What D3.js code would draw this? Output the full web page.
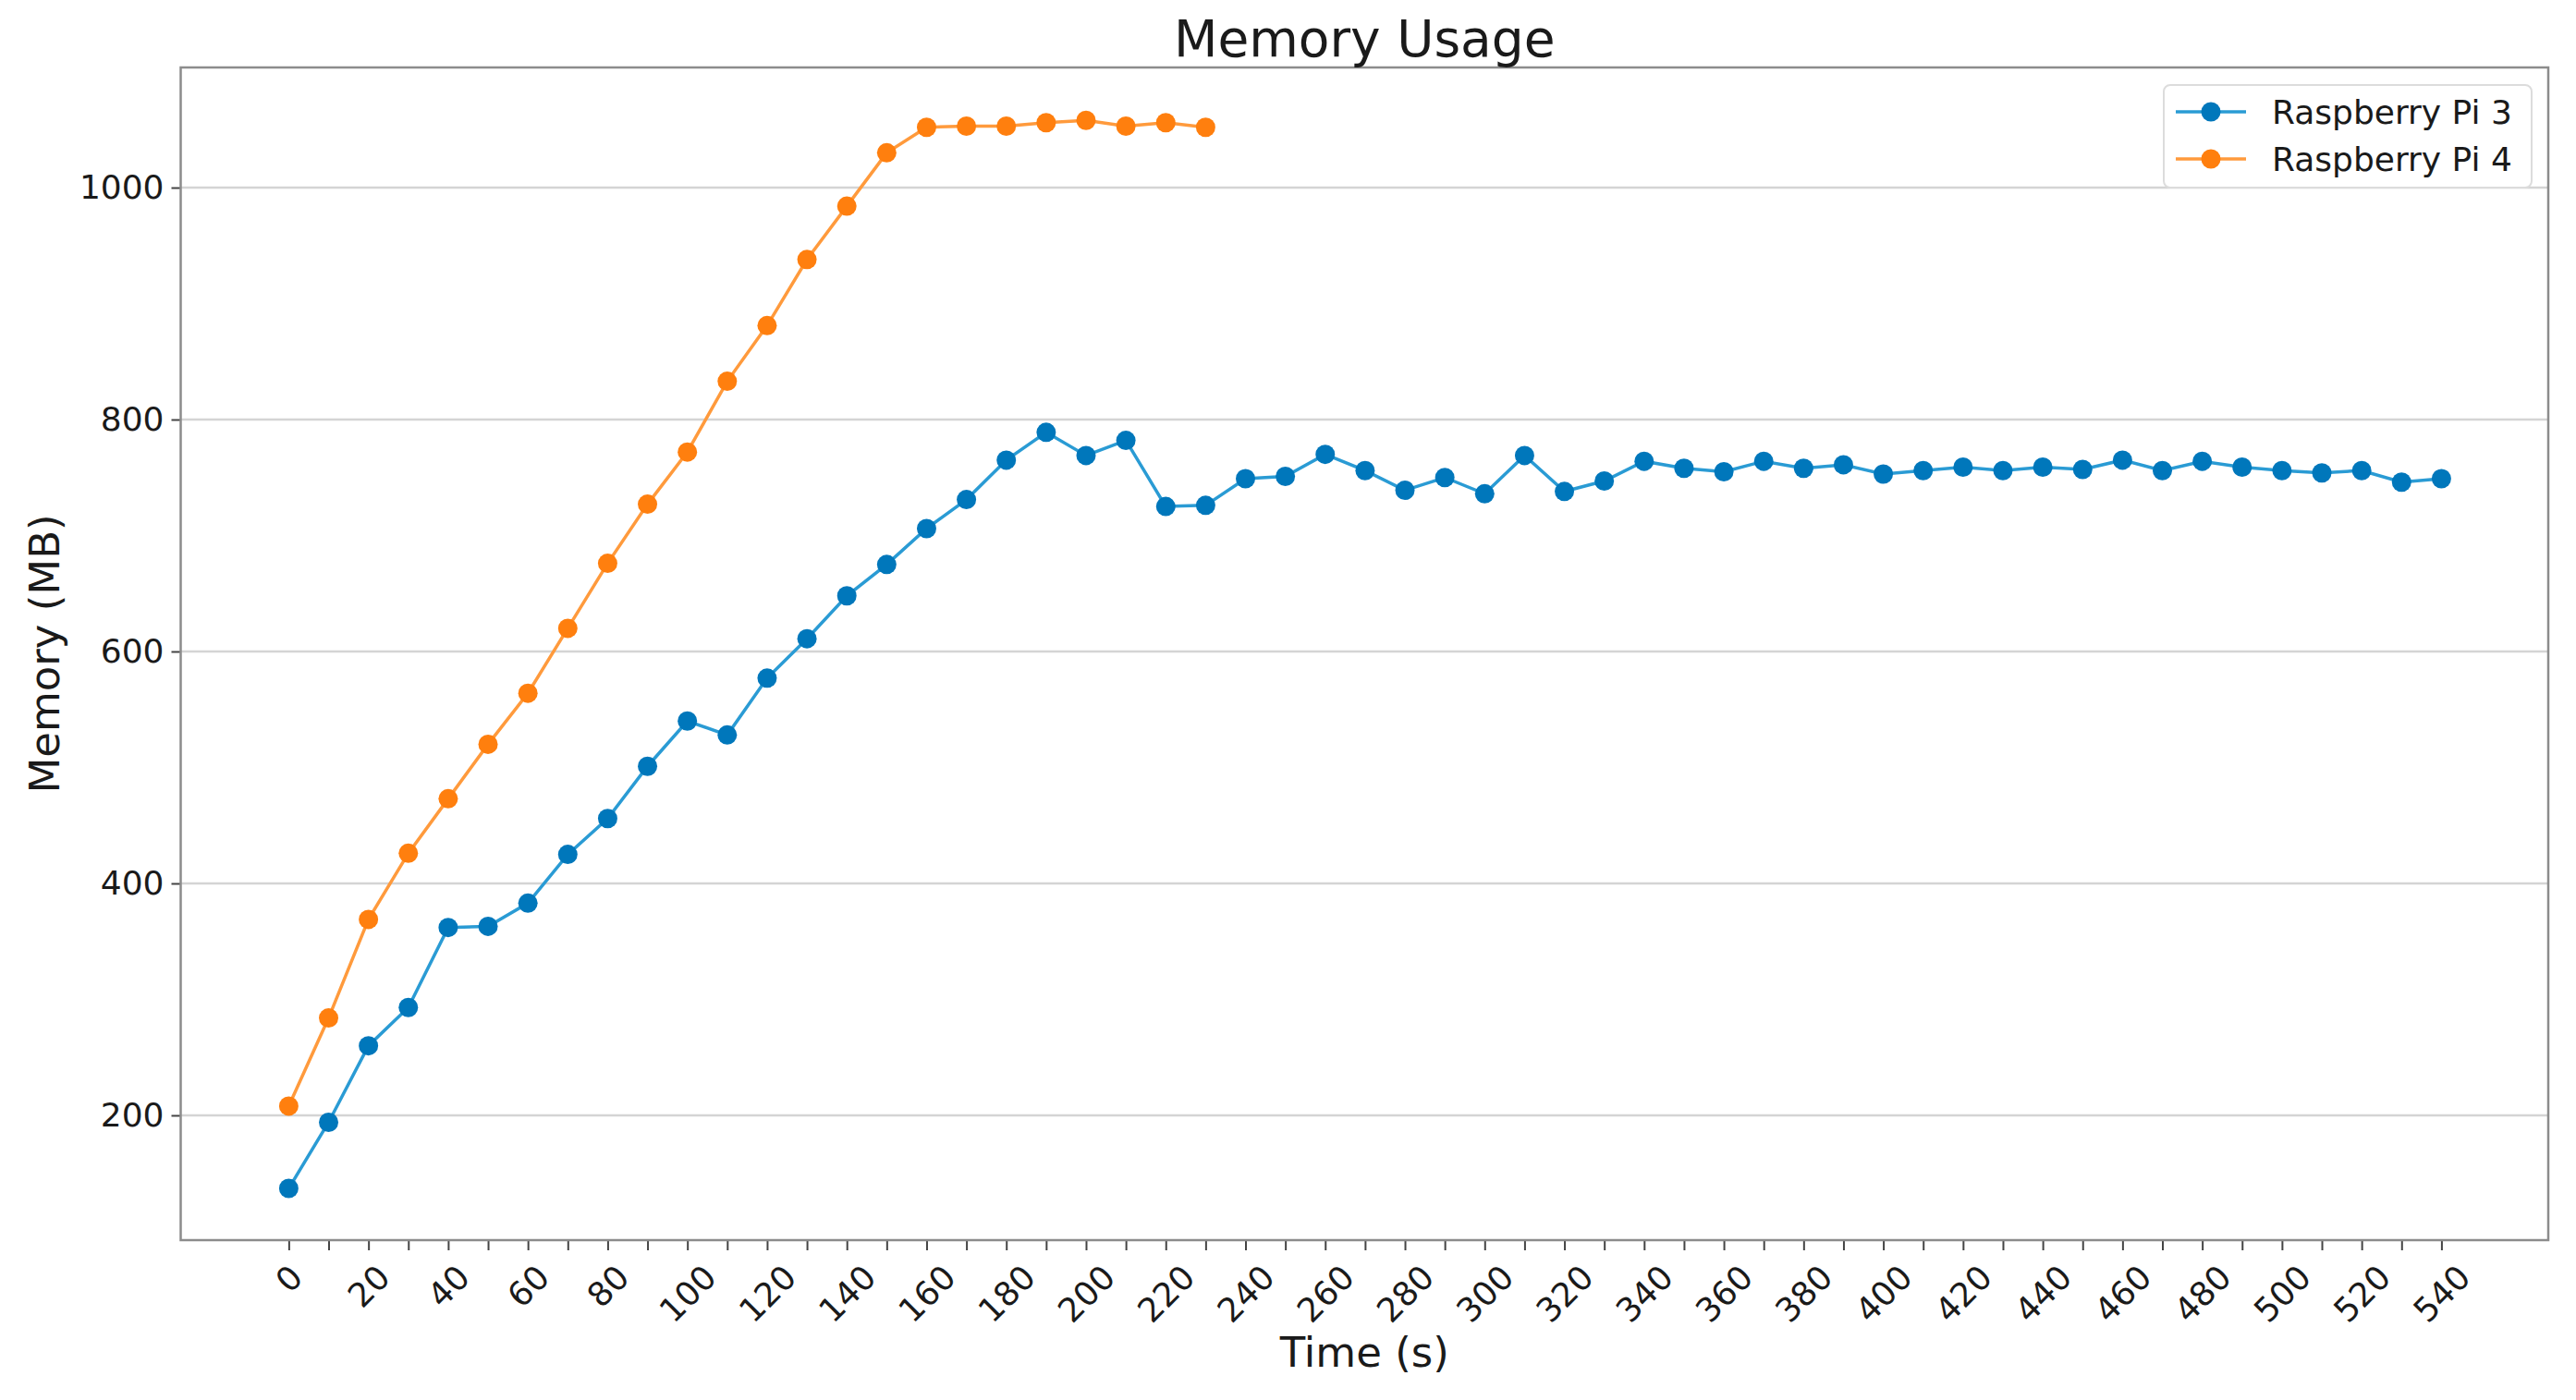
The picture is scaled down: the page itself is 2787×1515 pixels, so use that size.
<!DOCTYPE html>
<html>
<head>
<meta charset="utf-8">
<script src="https://cdn.jsdelivr.net/npm/d3@7"></script>
<style>
  html, body { margin: 0; padding: 0; background: #fff; }
  svg { display: block; }
  text { font-family: "DejaVu Sans", sans-serif; fill: #1a1a1a; }
</style>
</head>
<body>
<svg id="chart" width="2787" height="1515"></svg>
<script>
// ---- data ----
const timesPi3 = [0,10,20,30,40,50,60,70,80,90,100,110,120,130,140,150,160,170,180,190,200,210,220,230,240,250,260,270,280,290,300,310,320,330,340,350,360,370,380,390,400,410,420,430,440,450,460,470,480,490,500,510,520,530,540];
const memPi3 = [137,194,260,293,362,363,383,425,456,501,540,528,577,611,648,675,706,731,765,789,769,782,725,726,749,751,770,756,739,750,736,769,738,747,764,758,755,764,758,761,753,756,759,756,759,757,765,756,764,759,756,754,756,746,749];
const timesPi4 = [0,10,20,30,40,50,60,70,80,90,100,110,120,130,140,150,160,170,180,190,200,210,220,230];
const memPi4 = [208,284,369,426,473,520,564,620,676,727,772,833,881,938,984,1030,1052,1053,1053,1056,1058,1053,1056,1052];
const seriesNames = ["Raspberry Pi 3", "Raspberry Pi 4"];
const seriesColors = ["#0077bb", "#ff7f0e"];
const lineColors = ["#2a9bd4", "#ff9a3c"];
const yTicks = [200, 400, 600, 800, 1000];
const xTicks = d3.range(0, 541, 10);
const xTickLabels = d3.range(0, 541, 20);

// ---- layout ----
const svg = d3.select("#chart");
const L = 195.5, R = 2757, T = 73, B = 1342;
const x = d3.scaleLinear().domain([-27.1, 566.8]).range([L, R]);
const y = d3.scaleLinear().domain([92.4, 1103.6]).range([B, T]);

svg.append("rect").attr("width", 2787).attr("height", 1515).attr("fill", "#fff");

// grid (horizontal)
svg.append("g").selectAll("line").data(yTicks).join("line")
  .attr("x1", L).attr("x2", R)
  .attr("y1", d => y(d)).attr("y2", d => y(d))
  .attr("stroke", "#d4d4d4").attr("stroke-width", 2.5);

// y axis
const yAxis = svg.append("g").attr("transform", `translate(${L},0)`)
  .call(d3.axisLeft(y).tickValues(yTicks).tickSize(10).tickPadding(8).tickFormat(d3.format("d")));
yAxis.select(".domain").remove();
yAxis.selectAll(".tick line").attr("stroke", "#444").attr("stroke-width", 2);
yAxis.selectAll(".tick text").attr("font-size", 36).attr("font-family", "DejaVu Sans").attr("fill", "#1a1a1a");

// x axis
const xAxis = svg.append("g").attr("transform", `translate(0,${B})`)
  .call(d3.axisBottom(x).tickValues(xTicks).tickSize(11).tickFormat(d => xTickLabels.includes(d) ? String(d) : ""));
xAxis.select(".domain").remove();
xAxis.selectAll(".tick line").attr("stroke", "#444").attr("stroke-width", 2);
xAxis.selectAll(".tick text")
  .attr("font-size", 36).attr("font-family", "DejaVu Sans").attr("fill", "#1a1a1a")
  .attr("text-anchor", "middle").attr("dominant-baseline", "central")
  .attr("y", 0).attr("dy", null)
  .each(function() {
    const el = d3.select(this);
    const w = this.getComputedTextLength();
    const h = 36 * 1.164;
    const bh = (w + h) * Math.SQRT1_2;
    const cy = 1361 - B + bh / 2;
    el.attr("y", cy).attr("transform", `rotate(-45,0,${cy})`);
  });

// spines
svg.append("rect").attr("x", L).attr("y", T).attr("width", R - L).attr("height", B - T)
  .attr("fill", "none").attr("stroke", "#8c8c8c").attr("stroke-width", 2.5);

// series
const series = [
  { name: seriesNames[0], color: seriesColors[0], lc: lineColors[0], pts: timesPi3.map((t, i) => [t, memPi3[i]]) },
  { name: seriesNames[1], color: seriesColors[1], lc: lineColors[1], pts: timesPi4.map((t, i) => [t, memPi4[i]]) }
];
const line = d3.line().x(d => x(d[0])).y(d => y(d[1]));
series.forEach(s => {
  const g = svg.append("g");
  g.append("path").attr("d", line(s.pts)).attr("fill", "none")
    .attr("stroke", s.lc).attr("stroke-width", 3.5);
  g.selectAll("circle").data(s.pts).join("circle")
    .attr("cx", d => x(d[0])).attr("cy", d => y(d[1])).attr("r", 10.5)
    .attr("fill", s.color);
});

// title & labels
svg.append("text").attr("x", (L + R) / 2).attr("y", 61).attr("text-anchor", "middle")
  .attr("font-size", 55).text("Memory Usage");
svg.append("text").attr("x", (L + R) / 2).attr("y", 1479).attr("text-anchor", "middle")
  .attr("font-size", 45).text("Time (s)");
svg.append("text").attr("transform", `translate(64,${(T + B) / 2}) rotate(-90)`)
  .attr("text-anchor", "middle").attr("font-size", 45).text("Memory (MB)");

// legend
const lg = svg.append("g");
lg.append("rect").attr("x", 2341).attr("y", 92).attr("width", 398).attr("height", 111)
  .attr("rx", 7).attr("fill", "#fff").attr("fill-opacity", 0.85)
  .attr("stroke", "#dcdcdc").attr("stroke-width", 2);
series.forEach((s, i) => {
  const cy = 121 + i * 51;
  lg.append("line").attr("x1", 2354).attr("x2", 2430).attr("y1", cy).attr("y2", cy)
    .attr("stroke", s.lc).attr("stroke-width", 3.5);
  lg.append("circle").attr("cx", 2392).attr("cy", cy).attr("r", 10.5).attr("fill", s.color);
  lg.append("text").attr("x", 2458).attr("y", cy).attr("dominant-baseline", "central")
    .attr("font-size", 36).text(s.name);
});
</script>
</body>
</html>
